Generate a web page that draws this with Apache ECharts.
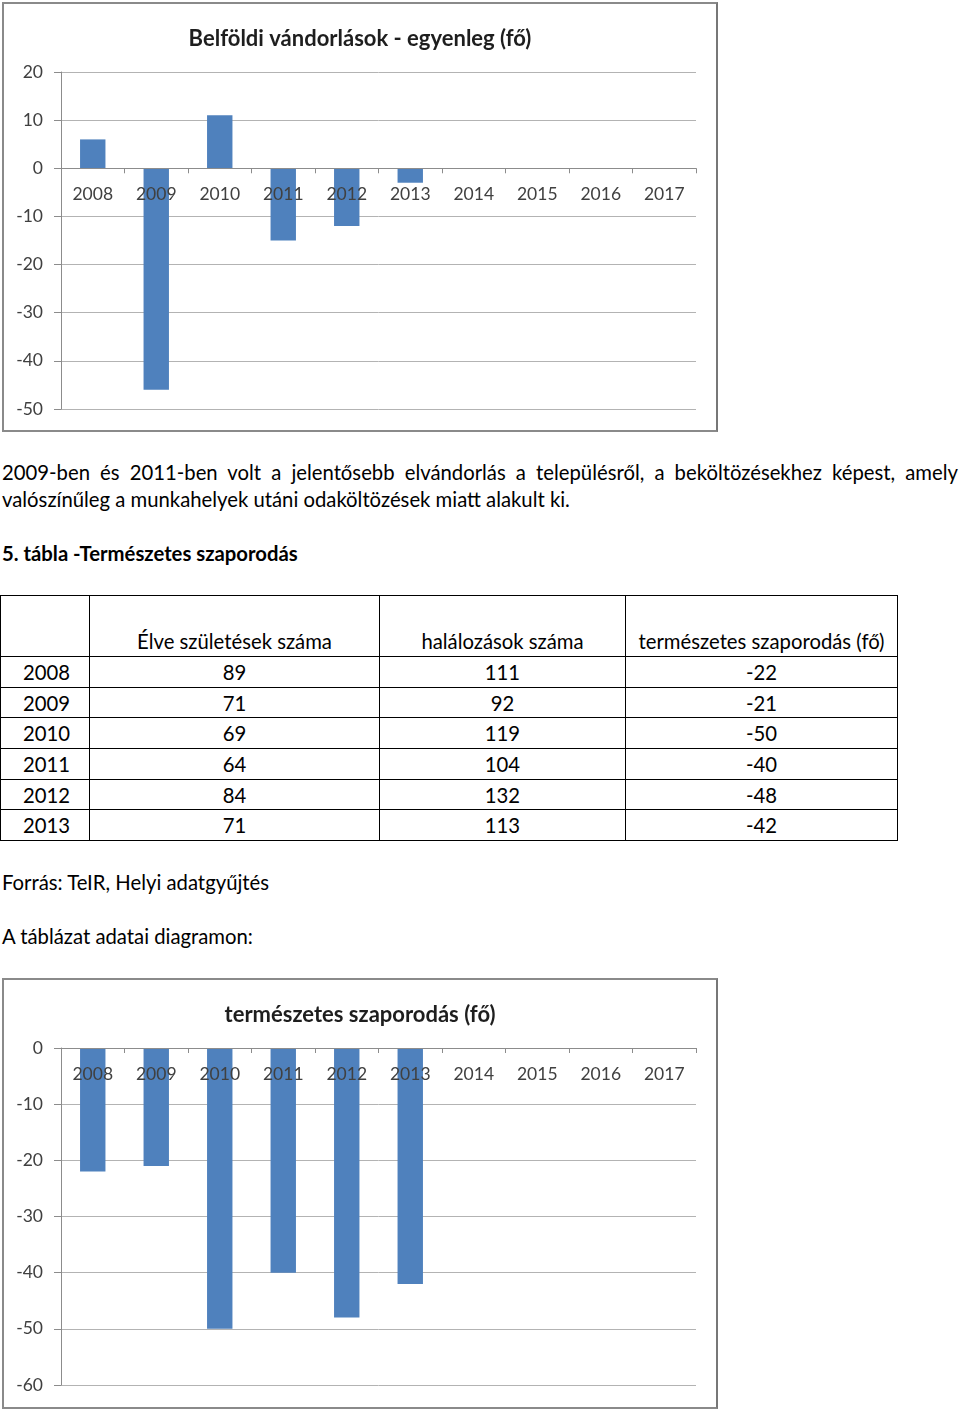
<!DOCTYPE html>
<html>
<head>
<meta charset="utf-8">
<script src="https://cdn.jsdelivr.net/npm/echarts@6/dist/echarts.min.js"></script>
<style>
  html, body { margin:0; padding:0; background:#fff; }
  body { width:960px; height:1410px; position:relative; overflow:hidden; font-family: Lato, "Open Sans", sans-serif; color:#000; }
  .frame { position:absolute; box-sizing:border-box; border:2px solid #8a8a8a; border-right-color:#777; background:#fff; }
  .chart { position:absolute; left:0; top:0; }
  .txt { position:absolute; left:2px; font-size:20.3px; line-height:27px; white-space:nowrap; }
  .just { width:956px; text-align:justify; text-align-last:justify; white-space:normal; }
  table { position:absolute; left:0; top:595px; border-collapse:collapse; font-size:20.3px; }
  td { border:1px solid #000; padding:0; text-align:center; height:29.7px; line-height:20px; }
  td.y { text-align:left; padding-left:22px; }
  tr.h td { height:55px; vertical-align:bottom; padding-bottom:5px; }
</style>
</head>
<body>
<div class="frame" style="left:2px;top:2px;width:716px;height:430px;"><div id="c1" class="chart" style="width:712px;height:426px;"></div></div>

<div class="txt just" style="top:459px;">2009-ben és 2011-ben volt a jelentősebb elvándorlás a településről, a beköltözésekhez képest, amely</div>
<div class="txt" style="top:486px;">valószínűleg a munkahelyek utáni odaköltözések miatt alakult ki.</div>
<div class="txt" style="top:540px;font-weight:bold;">5. tábla -Természetes szaporodás</div>

<table id="tbl">
  <colgroup><col style="width:89px"><col style="width:290px"><col style="width:246px"><col style="width:272px"></colgroup>
</table>

<div class="txt" style="top:869px;">Forrás: TeIR, Helyi adatgyűjtés</div>
<div class="txt" style="top:923px;">A táblázat adatai diagramon:</div>

<div class="frame" style="left:2px;top:978px;width:716px;height:431px;"><div id="c2" class="chart" style="width:712px;height:427px;"></div></div>

<script>
// ---- data ----
const years = ['2008','2009','2010','2011','2012','2013','2014','2015','2016','2017'];
const migrationBalance = [6, -46, 11, -15, -12, -3, null, null, null, null];
const tableYears = ['2008','2009','2010','2011','2012','2013'];
const births = [89, 71, 69, 64, 84, 71];
const deaths = [111, 92, 119, 104, 132, 113];
const naturalIncrease = [-22, -21, -50, -40, -48, -42];
const tableHeaders = ['', 'Élve születések száma', 'halálozások száma', 'természetes szaporodás (fő)'];
const chart1Title = 'Belföldi vándorlások - egyenleg (fő)';
const chart2Title = 'természetes szaporodás (fő)';

// ---- table ----
const tbl = document.getElementById('tbl');
let html = '<tr class="h">' + tableHeaders.map(h => '<td>' + h + '</td>').join('') + '</tr>';
tableYears.forEach((y, i) => {
  html += '<tr><td class="y">' + y + '</td><td>' + births[i] + '</td><td>' + deaths[i] + '</td><td>' + naturalIncrease[i] + '</td></tr>';
});
tbl.insertAdjacentHTML('beforeend', html);

// ---- charts ----
const FONT = 'Lato';
const GRID_TOP = 68;
function makeOption(title, values, min, max, gridBottom) {
  return {
    animation: false,
    title: {
      text: title, left: 'center', top: 19,
      textStyle: { fontFamily: FONT, fontSize: 22, fontWeight: 'bold', color: '#1e1e1e' }
    },
    grid: { left: 57, right: 20, top: GRID_TOP, bottom: gridBottom, containLabel: false, outerBoundsMode: 'none' },
    xAxis: {
      type: 'category', data: years, z: 5, position: 'top', offset: 0,
      axisLine: { onZero: false, lineStyle: { color: '#8c8c8c', width: 1 } },
      axisTick: { show: true, length: 5, inside: true, alignWithLabel: false, lineStyle: { color: '#8c8c8c' } },
      axisLabel: { inside: true, margin: 17, fontFamily: FONT, fontSize: 17.5, color: '#404040', interval: 0 },
      splitLine: { show: false }
    },
    yAxis: {
      type: 'value', min: min, max: max, interval: 10,
      axisLine: { show: true, lineStyle: { color: '#8c8c8c', width: 1 } },
      axisTick: { show: true, length: 7, lineStyle: { color: '#8c8c8c' } },
      axisLabel: { margin: 18, fontFamily: FONT, fontSize: 17.5, color: '#404040' },
      splitLine: { show: true, lineStyle: { color: '#b3b3b3', width: 1 } }
    },
    series: [{
      type: 'bar', data: values, barWidth: '40%',
      itemStyle: { color: '#4F81BD' }
    }]
  };
}
function build(el, title, values, min, max, gridBottom) {
  const c = echarts.init(document.getElementById(el), null, { renderer: 'canvas' });
  c.setOption(makeOption(title, values, min, max, gridBottom));
  // move the category axis to the value-axis zero line, using the library's own scale
  const zeroPx = c.convertToPixel({ yAxisIndex: 0 }, 0);
  c.setOption({ xAxis: { offset: -(zeroPx - GRID_TOP) } });
  return c;
}
build('c1', chart1Title, migrationBalance, -50, 20, 21);
build('c2', chart2Title, naturalIncrease, -60, 0, 22);
</script>
</body>
</html>
